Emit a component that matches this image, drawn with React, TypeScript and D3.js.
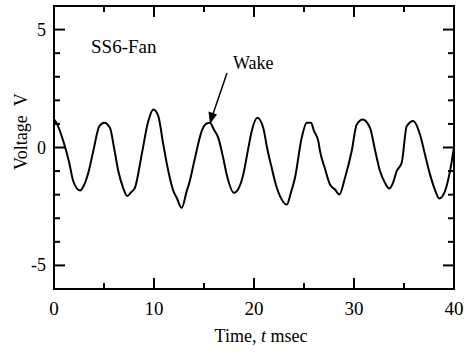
import React from "react";
import * as d3 from "d3";

// waveform (time in msec, voltage in V)
const timeMs = [
  0, 0.3, 0.93, 1.5, 1.93, 2.6, 3.0, 3.43, 3.93, 4.53, 5.03, 5.6, 6.0, 6.43, 6.9, 7.33, 7.7, 8.1, 8.77, 9.43,
  9.93, 10.43, 10.9, 11.43, 11.9, 12.27, 12.77, 13.27, 13.53, 14.1, 14.77, 15.2, 15.6, 16.0, 16.43, 16.9,
  17.27, 18.0, 18.5, 18.93, 19.4, 19.77, 20.33, 20.93, 21.3, 21.77, 22.2, 22.6, 23.27, 23.7, 24.1, 24.77,
  25.27, 25.7, 26.0, 26.43, 26.6, 27.1, 27.6, 28.1, 28.53, 29.1, 29.77, 30.27, 30.87, 31.6, 32.1, 32.6,
  33.1, 33.53, 33.9, 34.27, 34.77, 35.27, 35.93, 36.6, 37.1, 37.6, 38.1, 38.53, 39.1, 39.6, 40,
];
const voltage = [
  1.2, 1.0, 0.27, -0.6, -1.43, -1.82, -1.6, -1.07, -0.15, 0.9, 1.05, 0.83, 0.0, -1.0, -1.7, -2.06, -1.9,
  -1.7, -0.3, 1.12, 1.61, 1.33, 0.2, -1.0, -1.8, -2.13, -2.56, -1.85, -1.5, -0.44, 0.69, 1.0, 1.05, 0.75,
  0.41, -0.4, -1.14, -1.92, -1.7, -1.14, -0.1, 0.69, 1.26, 0.83, 0.0, -0.86, -1.6, -2.06, -2.42, -1.9,
  -1.28, 0.41, 1.05, 1.05, 0.7, 0.27, -0.15, -0.9, -1.57, -1.78, -1.99, -1.28, -0.15, 0.97, 1.19, 0.83,
  -0.1, -1.0, -1.5, -1.74, -1.5, -1.0, -0.65, 0.9, 1.12, 0.55, -0.3, -1.14, -1.8, -2.16, -1.85, -1.0, 0.0,
];
const xMajorTicks = [0, 10, 20, 30, 40];
const xMinorTicks = [5, 15, 25, 35];
const yMajorTicks = [-5, 0, 5];
const yMinorTicks = [-4, -3, -2, -1, 1, 2, 3, 4];
const yTickLabels = ["-5", "0", "5"];

const W = 475;
const H = 356;
const LEFT = 54;
const RIGHT = 454;
const TOP = 6;
const BOTTOM = 289;
const FONT = "'Liberation Serif', 'Times New Roman', serif";

const App = () => {
  const x = d3.scaleLinear().domain([0, 40]).range([LEFT, RIGHT]);
  const y = d3.scaleLinear().domain([-6, 6]).range([BOTTOM, TOP]);

  const points: [number, number][] = timeMs.map((t, i) => [t, voltage[i]]);
  const line = d3
    .line<[number, number]>()
    .x((d) => x(d[0]))
    .y((d) => y(d[1]))
    .curve(d3.curveMonotoneX);

  const major = 11;
  const minor = 6;

  return (
    <svg
      width={W}
      height={H}
      style={{ position: "absolute", left: 0, top: 0, background: "#fff" }}
      fontFamily={FONT}
    >
      {/* frame */}
      <rect x={LEFT} y={TOP} width={RIGHT - LEFT} height={BOTTOM - TOP} fill="none" stroke="#000" strokeWidth={2} />

      {/* x ticks, bottom and top */}
      {xMajorTicks.map((t) => (
        <g key={"xM" + t} stroke="#000" strokeWidth={2}>
          <line x1={x(t)} x2={x(t)} y1={BOTTOM} y2={BOTTOM - major} />
          <line x1={x(t)} x2={x(t)} y1={TOP} y2={TOP + major} />
        </g>
      ))}
      {xMinorTicks.map((t) => (
        <g key={"xm" + t} stroke="#000" strokeWidth={2}>
          <line x1={x(t)} x2={x(t)} y1={BOTTOM} y2={BOTTOM - minor} />
          <line x1={x(t)} x2={x(t)} y1={TOP} y2={TOP + minor} />
        </g>
      ))}

      {/* y ticks, left and right */}
      {yMajorTicks.map((v) => (
        <g key={"yM" + v} stroke="#000" strokeWidth={2}>
          <line x1={LEFT} x2={LEFT + major} y1={y(v)} y2={y(v)} />
          <line x1={RIGHT} x2={RIGHT - major} y1={y(v)} y2={y(v)} />
        </g>
      ))}
      {yMinorTicks.map((v) => (
        <g key={"ym" + v} stroke="#000" strokeWidth={2}>
          <line x1={LEFT} x2={LEFT + minor} y1={y(v)} y2={y(v)} />
          <line x1={RIGHT} x2={RIGHT - minor} y1={y(v)} y2={y(v)} />
        </g>
      ))}

      {/* tick labels */}
      {xMajorTicks.map((t) => (
        <text key={"xl" + t} x={x(t)} y={315} textAnchor="middle" fontSize={19}>
          {t}
        </text>
      ))}
      {yMajorTicks.map((v, i) => (
        <text key={"yl" + v} x={46} y={y(v) + 6} textAnchor="end" fontSize={18}>
          {yTickLabels[i]}
        </text>
      ))}

      {/* axis titles */}
      <text x={261} y={342} textAnchor="middle" fontSize={18}>
        Time, <tspan fontStyle="italic">t</tspan> msec
      </text>
      <text transform="translate(27,170) rotate(-90)" fontSize={18}>
        Voltage<tspan dx={9}>V</tspan>
      </text>

      {/* waveform */}
      <path d={line(points) ?? ""} fill="none" stroke="#000" strokeWidth={2} strokeLinejoin="round" />

      {/* annotations */}
      <text x={91} y={53} fontSize={19}>
        SS6-Fan
      </text>
      <text x={233} y={69} fontSize={18}>
        Wake
      </text>
      <line x1={227} y1={73} x2={213} y2={114} stroke="#000" strokeWidth={1.5} />
      <path d="M210,124 L208.5,111.5 L217,114.5 Z" fill="#000" />
    </svg>
  );
};

export default App;
